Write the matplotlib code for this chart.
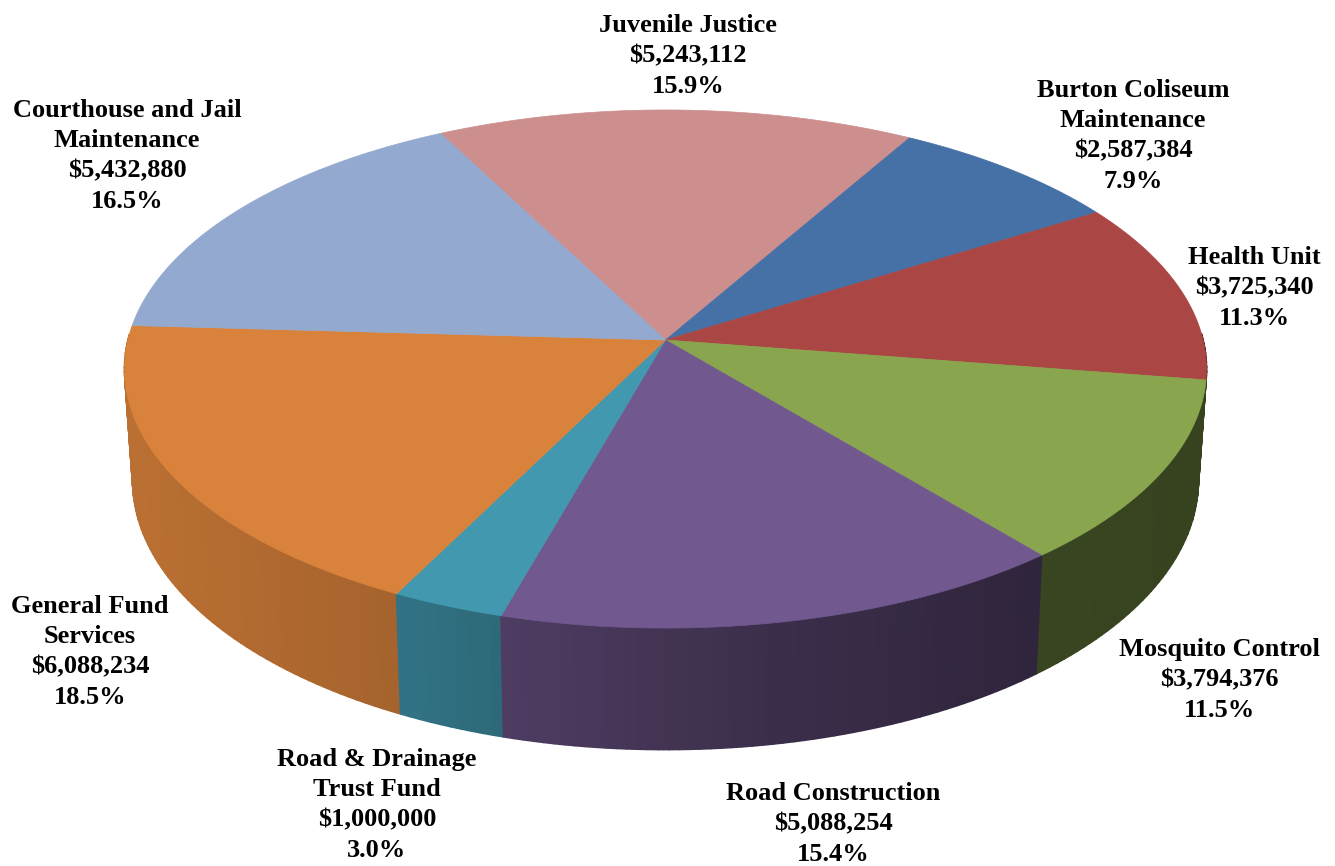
#!/usr/bin/env python3
"""Perspective 3D pie of the budget by fund, drawn from plain polygons."""

import numpy as np
import matplotlib
matplotlib.use("Agg")
import matplotlib.pyplot as plt
from matplotlib.collections import PolyCollection
from matplotlib.colors import to_rgb
from matplotlib.patches import Polygon

# Clockwise from the wedge at the back of the pie
names = [
    "Juvenile Justice",
    "Burton Coliseum\nMaintenance",
    "Health Unit",
    "Mosquito Control",
    "Road Construction",
    "Road & Drainage\nTrust Fund",
    "General Fund\nServices",
    "Courthouse and Jail\nMaintenance",
]
amounts = [5243112, 2587384, 3725340, 3794376, 5088254, 1000000, 6088234, 5432880]
colors = ["#CD8E8E", "#4571A6", "#AA4643", "#89A54E", "#71588F", "#4198AF", "#D9823B", "#93A9CF"]
label_xy = [
    (688, 56), (1133, 136), (1254, 288), (1219, 680),
    (833, 824), (377, 805), (90, 652), (127, 156),
]

WIDTH, HEIGHT = 1335, 866
START_DEG = -27.4

# Screen geometry in pixels: apex of the pie and the perspective terms
CX, CY = 665.5, 340.0
PERSP = 0.112
BX, BY = 537.6, 255.8
# Lower rim relative to the top rim
RIM_SX, RIM_SY, RIM_DY = 0.985, 1.04, 110.0

# Side shading, as a fraction of the wedge colour, by screen x
SHADE_X = [135, 400, 500, 760, 1030, 1200]
SHADE_F = [0.86, 0.76, 0.69, 0.53, 0.42, 0.40]


def project(theta):
    """Map clockwise-from-north angles on the unit circle to top-rim pixels."""
    x, y = np.sin(theta), np.cos(theta)
    w = 1 + PERSP * y
    return CX + BX * x / w, CY - BY * y / w


def lower_rim(px, py):
    return CX + (px - CX) * RIM_SX, CY + (py - CY) * RIM_SY + RIM_DY


fig = plt.figure(figsize=(WIDTH / 100, HEIGHT / 100), dpi=100)
ax = fig.add_axes([0, 0, 1, 1])
ax.set_xlim(0, WIDTH)
ax.set_ylim(HEIGHT, 0)
ax.axis("off")

fractions = np.array(amounts) / sum(amounts)
edges = np.radians(START_DEG + 360 * np.concatenate([[0], np.cumsum(fractions)]))

# Outer wall first, back to front, so the top face covers what it should.
# Only the near half is built, the far wall is hidden behind the top anyway.
quads, quad_colors, depth = [], [], []
for i, color in enumerate(colors):
    t = np.linspace(edges[i], edges[i + 1], max(int(np.degrees(edges[i + 1] - edges[i])), 2) + 1)
    px, py = project(t)
    lx, ly = lower_rim(px, py)
    for j in range(len(t) - 1):
        if np.cos((t[j] + t[j + 1]) / 2) > 0.02:
            continue
        quads.append([(px[j], py[j]), (px[j + 1], py[j + 1]), (lx[j + 1], ly[j + 1]), (lx[j], ly[j])])
        shade = np.interp((px[j] + px[j + 1]) / 2, SHADE_X, SHADE_F)
        quad_colors.append(tuple(np.array(to_rgb(color)) * shade))
        depth.append(py[j] + py[j + 1])
order = np.argsort(depth)
walls = PolyCollection(
    [quads[k] for k in order],
    facecolors=[quad_colors[k] for k in order],
    edgecolors=[quad_colors[k] for k in order],
    linewidths=1.2,
)
ax.add_collection(walls)

# Top face
for i, color in enumerate(colors):
    t = np.linspace(edges[i], edges[i + 1], 120)
    px, py = project(t)
    verts = np.column_stack([np.r_[CX, px], np.r_[CY, py]])
    ax.add_patch(Polygon(verts, closed=True, facecolor=color, edgecolor=color, linewidth=0.5))

for name, amount, frac, (x, y) in zip(names, amounts, fractions, label_xy):
    ax.text(
        x, y, f"{name}\n${amount:,}\n{frac:.1%}",
        ha="center", va="center", ma="center",
        family="Liberation Serif", weight="bold", fontsize=19, linespacing=1.39, color="black",
    )

fig.savefig("out.png", dpi=100)
